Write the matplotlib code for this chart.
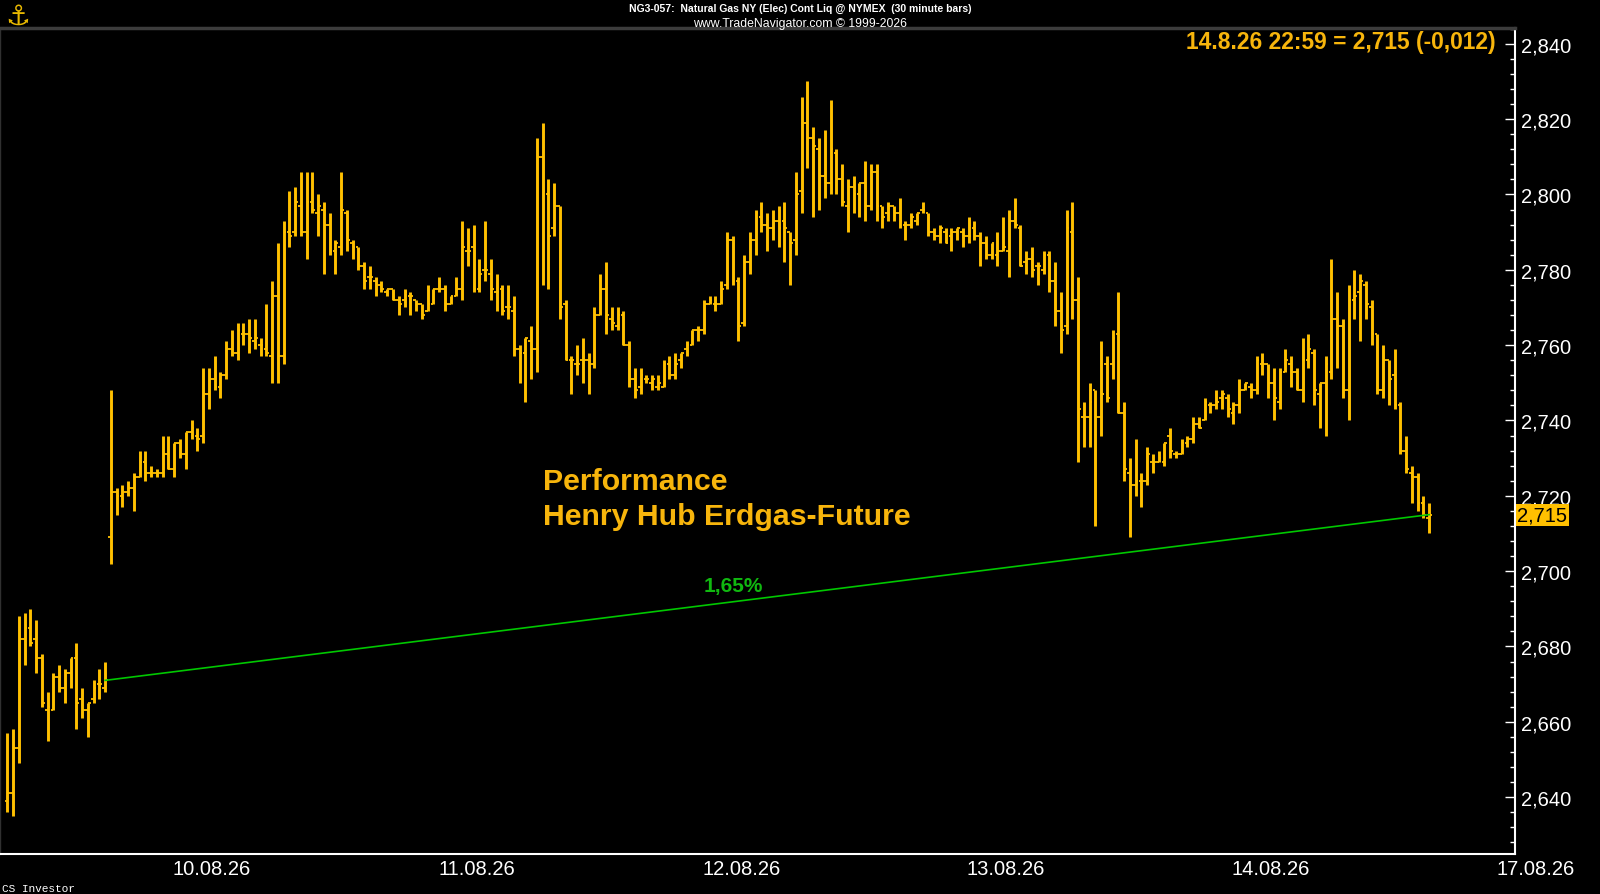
import matplotlib
matplotlib.use('Agg')
import matplotlib.pyplot as plt
from matplotlib.ticker import MultipleLocator, FuncFormatter, FixedLocator
import numpy as np

plt.rcParams['font.family'] = ['Liberation Sans', 'DejaVu Sans']

# NG3-057 30 minute bars, last bars of 07.08.26 up to 14.08.26 22:59
opens = [
    2.639, 2.641, 2.653, 2.682, 2.685, 2.682, 2.677, 2.663, 2.663, 2.672,
    2.669, 2.673, 2.677, 2.666, 2.663, 2.666, 2.670, 2.669, 2.709, 2.721,
    2.720, 2.721, 2.722, 2.725, 2.729, 2.726, 2.726, 2.726, 2.731, 2.727,
    2.734, 2.731, 2.737, 2.736, 2.736, 2.747, 2.751, 2.749, 2.752, 2.759,
    2.758, 2.763, 2.763, 2.761, 2.760, 2.759, 2.757, 2.773, 2.757, 2.790,
    2.790, 2.797, 2.790, 2.798, 2.795, 2.796, 2.792, 2.785, 2.786, 2.795,
    2.787, 2.786, 2.781, 2.778, 2.777, 2.776, 2.774, 2.775, 2.772, 2.772,
    2.773, 2.772, 2.771, 2.769, 2.771, 2.775, 2.775, 2.771, 2.773, 2.775,
    2.785, 2.786, 2.775, 2.780, 2.779, 2.774, 2.775, 2.770, 2.769, 2.759,
    2.758, 2.761, 2.759, 2.810, 2.800, 2.791, 2.797, 2.771, 2.756, 2.755,
    2.756, 2.756, 2.755, 2.768, 2.775, 2.767, 2.765, 2.768, 2.760, 2.751,
    2.749, 2.751, 2.750, 2.749, 2.749, 2.755, 2.752, 2.756, 2.759, 2.760,
    2.764, 2.764, 2.771, 2.771, 2.771, 2.776, 2.788, 2.777, 2.766, 2.782,
    2.788, 2.794, 2.792, 2.791, 2.793, 2.793, 2.790, 2.788, 2.801, 2.819,
    2.815, 2.812, 2.805, 2.803, 2.811, 2.804, 2.797, 2.802, 2.800, 2.803,
    2.797, 2.806, 2.797, 2.795, 2.797, 2.795, 2.792, 2.792, 2.793, 2.796,
    2.795, 2.790, 2.789, 2.790, 2.789, 2.790, 2.790, 2.789, 2.791, 2.789,
    2.787, 2.784, 2.784, 2.785, 2.785, 2.793, 2.791, 2.782, 2.783, 2.781,
    2.780, 2.784, 2.777, 2.769, 2.765, 2.790, 2.772, 2.741, 2.741, 2.748,
    2.741, 2.755, 2.755, 2.763, 2.742, 2.726, 2.723, 2.724, 2.724, 2.729,
    2.729, 2.729, 2.736, 2.731, 2.731, 2.734, 2.735, 2.739, 2.740, 2.744,
    2.744, 2.746, 2.746, 2.742, 2.744, 2.748, 2.749, 2.748, 2.755, 2.755,
    2.750, 2.745, 2.753, 2.755, 2.753, 2.748, 2.756, 2.758, 2.747, 2.750,
    2.753, 2.767, 2.765, 2.748, 2.772, 2.774, 2.776, 2.770, 2.763, 2.748,
    2.756, 2.752, 2.744, 2.732, 2.726, 2.725, 2.718, 2.714]
highs = [
    2.657, 2.658, 2.688, 2.689, 2.690, 2.687, 2.678, 2.668, 2.673, 2.675,
    2.674, 2.677, 2.681, 2.669, 2.665, 2.671, 2.674, 2.676, 2.748, 2.722,
    2.723, 2.724, 2.726, 2.732, 2.732, 2.728, 2.727, 2.736, 2.736, 2.734,
    2.735, 2.737, 2.740, 2.738, 2.754, 2.754, 2.757, 2.753, 2.761, 2.764,
    2.766, 2.766, 2.767, 2.767, 2.762, 2.771, 2.777, 2.787, 2.793, 2.801,
    2.802, 2.806, 2.806, 2.806, 2.800, 2.798, 2.795, 2.788, 2.806, 2.796,
    2.788, 2.786, 2.782, 2.781, 2.778, 2.777, 2.775, 2.775, 2.773, 2.775,
    2.774, 2.772, 2.771, 2.776, 2.775, 2.778, 2.776, 2.773, 2.778, 2.793,
    2.791, 2.792, 2.783, 2.793, 2.783, 2.779, 2.776, 2.776, 2.773, 2.760,
    2.762, 2.765, 2.815, 2.819, 2.804, 2.803, 2.797, 2.772, 2.757, 2.760,
    2.762, 2.758, 2.770, 2.779, 2.782, 2.770, 2.770, 2.769, 2.761, 2.754,
    2.754, 2.752, 2.752, 2.752, 2.756, 2.757, 2.758, 2.758, 2.761, 2.764,
    2.765, 2.772, 2.773, 2.773, 2.777, 2.790, 2.789, 2.778, 2.784, 2.790,
    2.796, 2.798, 2.795, 2.796, 2.797, 2.798, 2.790, 2.806, 2.826, 2.830,
    2.818, 2.815, 2.817, 2.825, 2.812, 2.808, 2.804, 2.805, 2.803, 2.809,
    2.808, 2.808, 2.797, 2.798, 2.797, 2.799, 2.793, 2.795, 2.795, 2.798,
    2.795, 2.791, 2.792, 2.791, 2.791, 2.791, 2.791, 2.794, 2.793, 2.790,
    2.789, 2.787, 2.790, 2.794, 2.796, 2.799, 2.792, 2.785, 2.786, 2.782,
    2.785, 2.785, 2.782, 2.774, 2.796, 2.798, 2.778, 2.745, 2.750, 2.748,
    2.761, 2.757, 2.764, 2.774, 2.745, 2.730, 2.735, 2.726, 2.733, 2.731,
    2.732, 2.734, 2.738, 2.732, 2.735, 2.736, 2.741, 2.741, 2.746, 2.745,
    2.748, 2.748, 2.747, 2.745, 2.751, 2.750, 2.750, 2.757, 2.758, 2.755,
    2.754, 2.754, 2.759, 2.757, 2.754, 2.762, 2.763, 2.759, 2.750, 2.757,
    2.783, 2.774, 2.767, 2.776, 2.780, 2.779, 2.777, 2.772, 2.763, 2.760,
    2.756, 2.759, 2.745, 2.736, 2.728, 2.726, 2.720, 2.718]
lows = [
    2.636, 2.635, 2.649, 2.675, 2.680, 2.673, 2.664, 2.655, 2.663, 2.668,
    2.665, 2.669, 2.658, 2.661, 2.656, 2.665, 2.666, 2.668, 2.702, 2.715,
    2.717, 2.720, 2.716, 2.725, 2.724, 2.725, 2.725, 2.725, 2.727, 2.725,
    2.730, 2.727, 2.735, 2.732, 2.734, 2.743, 2.748, 2.746, 2.751, 2.757,
    2.756, 2.760, 2.758, 2.759, 2.757, 2.757, 2.750, 2.750, 2.755, 2.786,
    2.789, 2.789, 2.783, 2.795, 2.789, 2.779, 2.784, 2.779, 2.784, 2.785,
    2.783, 2.780, 2.775, 2.775, 2.773, 2.774, 2.773, 2.772, 2.768, 2.770,
    2.768, 2.769, 2.767, 2.769, 2.771, 2.774, 2.769, 2.771, 2.773, 2.772,
    2.781, 2.774, 2.774, 2.777, 2.772, 2.769, 2.768, 2.767, 2.757, 2.750,
    2.745, 2.751, 2.753, 2.776, 2.775, 2.789, 2.767, 2.756, 2.747, 2.752,
    2.750, 2.747, 2.754, 2.768, 2.763, 2.764, 2.764, 2.760, 2.749, 2.746,
    2.747, 2.750, 2.748, 2.748, 2.749, 2.751, 2.751, 2.754, 2.757, 2.760,
    2.761, 2.763, 2.771, 2.769, 2.771, 2.775, 2.776, 2.761, 2.765, 2.779,
    2.784, 2.790, 2.785, 2.788, 2.786, 2.782, 2.776, 2.784, 2.795, 2.807,
    2.794, 2.796, 2.799, 2.800, 2.800, 2.797, 2.790, 2.795, 2.794, 2.793,
    2.796, 2.793, 2.791, 2.793, 2.793, 2.791, 2.788, 2.791, 2.792, 2.795,
    2.789, 2.788, 2.787, 2.787, 2.785, 2.788, 2.786, 2.787, 2.788, 2.781,
    2.783, 2.783, 2.781, 2.785, 2.778, 2.791, 2.781, 2.779, 2.778, 2.776,
    2.779, 2.774, 2.765, 2.758, 2.763, 2.767, 2.729, 2.733, 2.733, 2.712,
    2.736, 2.745, 2.751, 2.742, 2.724, 2.709, 2.720, 2.717, 2.723, 2.726,
    2.729, 2.728, 2.730, 2.730, 2.731, 2.733, 2.734, 2.738, 2.740, 2.742,
    2.743, 2.743, 2.741, 2.739, 2.742, 2.748, 2.746, 2.747, 2.752, 2.746,
    2.740, 2.743, 2.753, 2.749, 2.748, 2.745, 2.754, 2.744, 2.738, 2.736,
    2.751, 2.754, 2.746, 2.740, 2.767, 2.761, 2.767, 2.760, 2.747, 2.746,
    2.744, 2.743, 2.731, 2.726, 2.718, 2.716, 2.714, 2.710]
closes = [
    2.641, 2.653, 2.682, 2.685, 2.681, 2.677, 2.665, 2.664, 2.672, 2.669,
    2.673, 2.677, 2.665, 2.663, 2.665, 2.669, 2.670, 2.671, 2.721, 2.720,
    2.721, 2.722, 2.725, 2.729, 2.726, 2.726, 2.726, 2.731, 2.727, 2.734,
    2.731, 2.737, 2.738, 2.735, 2.747, 2.751, 2.749, 2.752, 2.759, 2.758,
    2.764, 2.763, 2.762, 2.762, 2.760, 2.758, 2.773, 2.757, 2.790, 2.789,
    2.798, 2.790, 2.798, 2.796, 2.797, 2.792, 2.785, 2.787, 2.796, 2.788,
    2.786, 2.781, 2.777, 2.778, 2.776, 2.775, 2.775, 2.772, 2.771, 2.774,
    2.773, 2.771, 2.768, 2.771, 2.775, 2.775, 2.771, 2.773, 2.775, 2.786,
    2.785, 2.775, 2.779, 2.780, 2.775, 2.774, 2.769, 2.770, 2.759, 2.758,
    2.762, 2.759, 2.810, 2.801, 2.789, 2.797, 2.770, 2.756, 2.756, 2.755,
    2.756, 2.755, 2.768, 2.775, 2.768, 2.766, 2.768, 2.760, 2.751, 2.748,
    2.752, 2.751, 2.751, 2.750, 2.755, 2.752, 2.755, 2.758, 2.760, 2.764,
    2.764, 2.771, 2.772, 2.771, 2.775, 2.788, 2.777, 2.765, 2.782, 2.788,
    2.795, 2.792, 2.791, 2.793, 2.791, 2.791, 2.787, 2.800, 2.819, 2.815,
    2.813, 2.805, 2.803, 2.812, 2.804, 2.798, 2.802, 2.800, 2.803, 2.797,
    2.806, 2.797, 2.794, 2.797, 2.795, 2.793, 2.792, 2.794, 2.795, 2.796,
    2.790, 2.789, 2.791, 2.787, 2.790, 2.791, 2.789, 2.789, 2.789, 2.787,
    2.784, 2.787, 2.785, 2.786, 2.793, 2.792, 2.781, 2.783, 2.780, 2.781,
    2.784, 2.777, 2.769, 2.764, 2.791, 2.772, 2.743, 2.741, 2.745, 2.741,
    2.747, 2.746, 2.762, 2.742, 2.727, 2.723, 2.724, 2.724, 2.731, 2.729,
    2.730, 2.734, 2.732, 2.731, 2.734, 2.735, 2.739, 2.738, 2.745, 2.744,
    2.745, 2.747, 2.743, 2.744, 2.748, 2.750, 2.748, 2.756, 2.755, 2.750,
    2.746, 2.753, 2.756, 2.753, 2.748, 2.756, 2.759, 2.748, 2.750, 2.755,
    2.767, 2.765, 2.748, 2.772, 2.773, 2.777, 2.771, 2.763, 2.748, 2.756,
    2.751, 2.744, 2.732, 2.727, 2.725, 2.718, 2.715, 2.715]

# day labels on the bar index scale, 46 bars per session
day_pos = [35.5, 81.5, 127.5, 173.5, 219.5, 265.5]
day_labels = ['10.08.26', '11.08.26', '12.08.26', '13.08.26', '14.08.26', '17.08.26']

perf_from = 17          # last bar before the weekend
perf_to = len(closes) - 1
last_stamp = '14.8.26 22:59'
last_change = -0.012

BAR = '#FFC000'
GOLD = '#F7B50C'
GREEN = '#00C800'

def de(v, nd=3):
    return f'{v:,.{nd}f}'.replace(',', 'X').replace('.', ',').replace('X', '.')

fig = plt.figure(figsize=(16, 8.95), dpi=100, facecolor='black')
ax = fig.add_axes([0.0, 40/895, 1515/1600, 826/895], facecolor='black')

idx = np.arange(len(closes))
ax.vlines(idx, lows, highs, color=BAR, lw=2.1, zorder=2)
ax.hlines(opens, idx - 0.48, idx, color=BAR, lw=1.3, zorder=2)
ax.hlines(closes, idx, idx + 0.48, color=BAR, lw=1.3, zorder=2)

# performance line
ax.plot([perf_from, perf_to], [closes[perf_from], closes[perf_to]],
        color=GREEN, lw=1.2, zorder=3)
perf = (closes[perf_to] - closes[perf_from]) / closes[perf_from] * 100
ax.text(126.2, 2.6948, de(perf, 2) + '%', color='#10B810', fontsize=15,
        fontweight='bold', ha='center', va='baseline', zorder=4)

ax.set_xlim(-1.27, 261.9)
ax.set_ylim(2.6249, 2.8442)

ax.yaxis.tick_right()
ax.yaxis.set_major_locator(MultipleLocator(0.02))
ax.yaxis.set_minor_locator(MultipleLocator(0.004))
ax.yaxis.set_major_formatter(FuncFormatter(lambda v, p: de(v)))
ax.tick_params(axis='y', which='major', direction='in', length=7, width=1,
               colors='white', labelsize=14.5, pad=4)
ax.tick_params(axis='y', which='minor', direction='in', length=3.5, width=1,
               colors='white')
ax.set_xticks([])
# date labels drawn as text so the one beyond the last bar shows too
for pos, lab in zip(day_pos, day_labels):
    ax.text(pos, -0.0175, lab, transform=ax.get_xaxis_transform(),
            color='white', fontsize=14.5, ha='center', va='center',
            clip_on=False)

ax.spines['right'].set_color('white')
ax.spines['right'].set_linewidth(1.5)
ax.spines['bottom'].set_color('white')
ax.spines['bottom'].set_linewidth(1.5)
ax.spines['top'].set_color('#3c3c3c')
ax.spines['top'].set_linewidth(2.5)
ax.spines['left'].set_color('#303030')
ax.spines['left'].set_linewidth(1)

# last price box on the axis
ax.text(1.0015, closes[-1], de(closes[-1]), transform=ax.get_yaxis_transform(),
        color='black', fontsize=14.5, ha='left', va='center', zorder=5,
        bbox=dict(boxstyle='square,pad=0.08', fc=BAR, ec='none'), clip_on=False)

ax.text(0.9875, 0.984, f'{last_stamp} = {de(closes[-1])} ({de(last_change)})',
        transform=ax.transAxes, color=GOLD, fontsize=16.4, fontweight='bold',
        ha='right', va='center')

fig.text(542.7/1600, 1 - 490/895, 'Performance', color=GOLD, fontsize=21.8,
         fontweight='bold', ha='left', va='baseline')
fig.text(542.7/1600, 1 - 525/895, 'Henry Hub Erdgas-Future', color=GOLD,
         fontsize=21.8, fontweight='bold', ha='left', va='baseline')

fig.text(0.5, 1 - 9/895,
         'NG3-057:  Natural Gas NY (Elec) Cont Liq @ NYMEX  (30 minute bars)',
         color='white', fontsize=7.5, fontweight='bold', ha='center', va='center')
fig.text(0.5, 1 - 23.5/895, 'www.TradeNavigator.com \u00a9 1999-2026',
         color='white', fontsize=8.8, ha='center', va='center')
fig.text(0.001, 1 - 889/895, 'CS Investor', color='white', fontsize=8,
         family='Liberation Mono', ha='left', va='center')
fig.text(18/1600, 1 - 17/895, '\u2693', color='#E8B800', fontsize=20,
         family='DejaVu Sans', ha='center', va='center')

fig.savefig('out.png', dpi=100, facecolor='black')
